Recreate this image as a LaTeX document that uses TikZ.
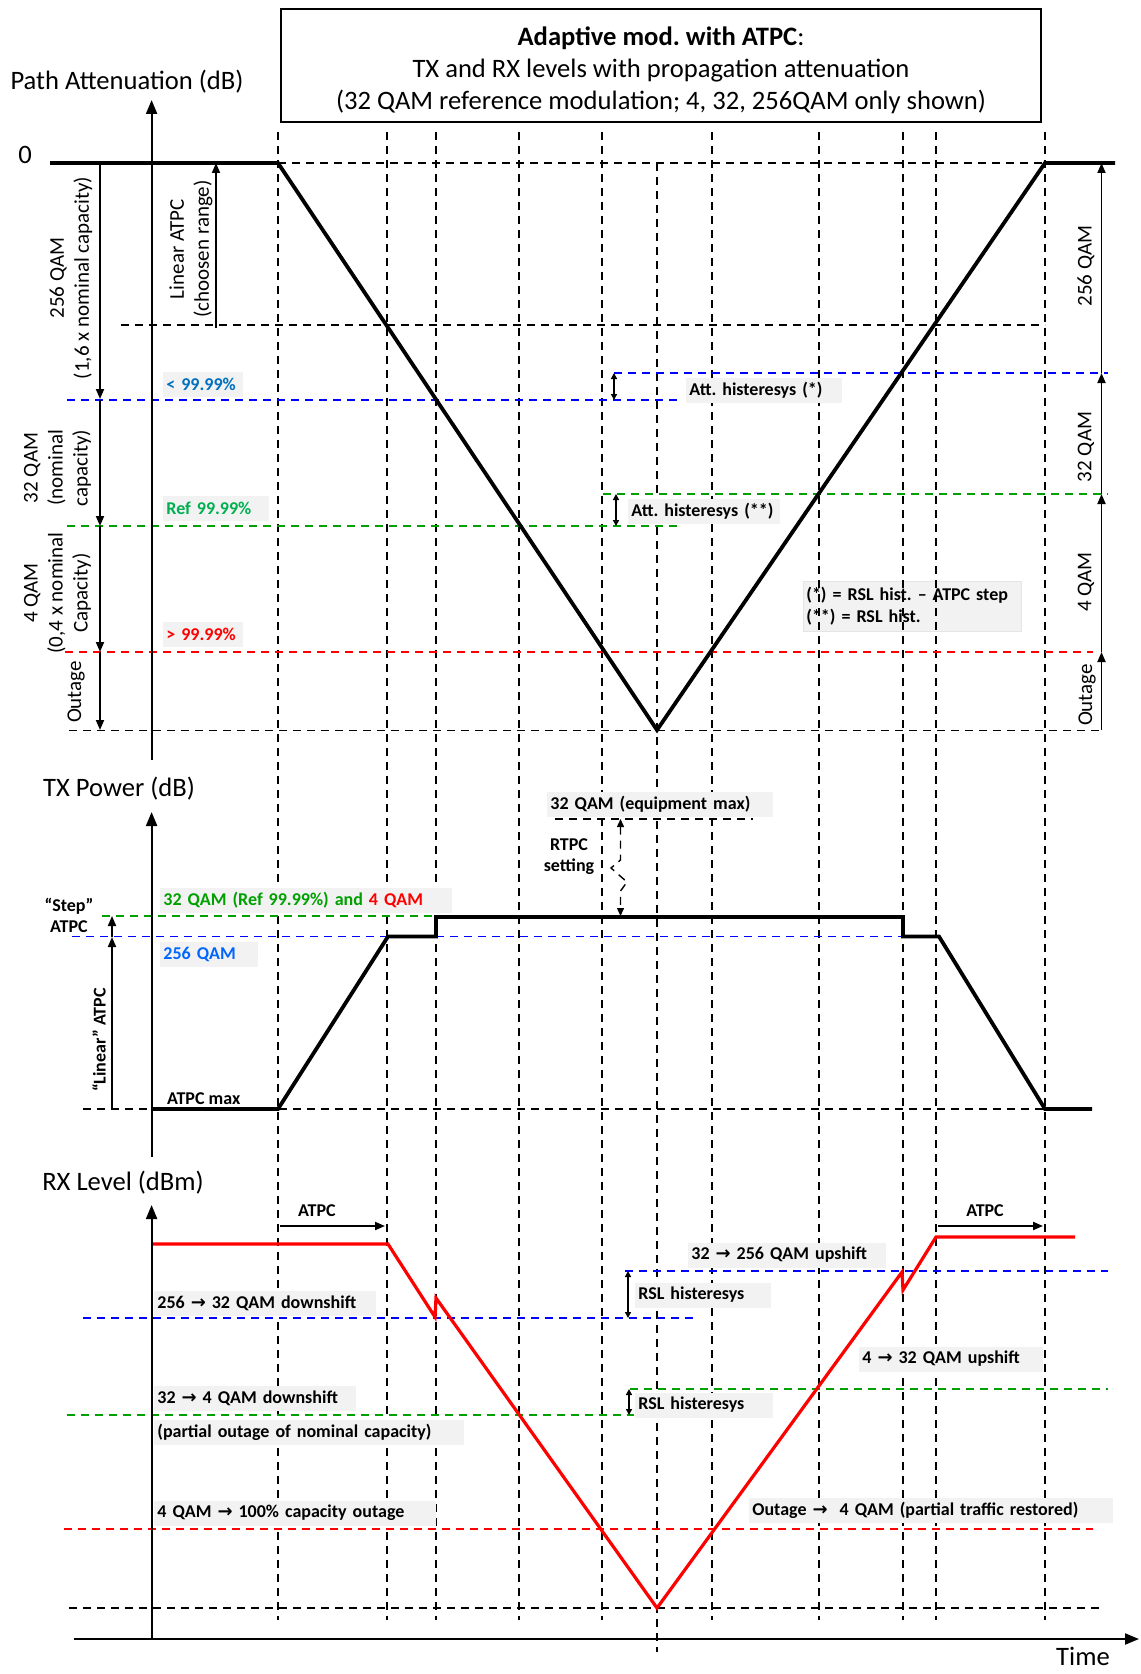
\documentclass[tikz,border=0pt]{standalone}
\usepackage{fontspec}
\setmainfont{Carlito}
\newfontfamily\arrowfont{DejaVu Sans}
\usetikzlibrary{arrows.meta}
\definecolor{lblue}{RGB}{0,112,192}
\definecolor{sblue}{RGB}{0,102,255}
\definecolor{dgreen}{RGB}{0,160,0}
\definecolor{lgreen}{RGB}{0,176,80}
\definecolor{boxgray}{RGB}{242,242,242}
\newcommand{\qto}{{\arrowfont\bfseries\char"2192}}
\begin{document}
\frenchspacing
\begin{tikzpicture}[x=0.5pt,y=-0.5pt,
  kdash/.style={dash pattern=on 4pt off 3pt,line width=0.6pt},
  bdash/.style={kdash,blue},
  gdash/.style={kdash,dgreen},
  rdash/.style={kdash,red},
  curve/.style={line width=1.9pt},
  axisline/.style={line width=1.1pt,-{Triangle[length=7pt,width=5.5pt]}},
  rng/.style={line width=0.9pt,-{Triangle[length=5pt,width=4pt]}},
  hist/.style={line width=0.7pt,{Triangle[length=3pt,width=3pt]}-{Triangle[length=3pt,width=3pt]}},
  lbl/.style={fill=boxgray,anchor=west,text width=#1,align=left,inner xsep=1.5pt,inner ysep=0pt,minimum height=12.5pt,font=\fontsize{9}{11}\bfseries\selectfont},
  big/.style={font=\fontsize{13.3}{16}\selectfont},
  mid/.style={rotate=90,align=center,font=\fontsize{10.5}{12.5}\selectfont},
  bold/.style={align=center,font=\fontsize{9}{10.5}\bfseries\selectfont}]
\useasboundingbox (0,0) rectangle (1140,1674);

\draw[line width=0.7pt] (281,9) rectangle (1041,122);
\node[big,align=center] (ttl) at (661,70)
  {\textbf{Adaptive mod. with ATPC}:\\TX and RX levels with propagation attenuation\\(32 QAM reference modulation; 4, 32, 256QAM only shown)};
\node[lbl=106pt,fill=boxgray,draw=gray!20,inner ysep=3pt] (note) at (803,606.5) {(*) = RSL hist. -- ATPC step\\(**) = RSL hist.};

\foreach \x in {278,387,436,519,602,712,819,903,936,1045}
  \draw[kdash] (\x,132) -- (\x,1620);
\draw[kdash] (657,163) -- (657,1652);

\draw[kdash] (278,163) -- (1045,163);
\draw[kdash] (121,325) -- (1045,325);
\draw[bdash] (614,373) -- (1108,373);
\draw[bdash] (67,400) -- (681,400);
\draw[gdash] (603,494) -- (1108,494);
\draw[gdash] (67,526) -- (681,526);
\draw[rdash] (65,652) -- (1093,652);
\draw[kdash] (69,730.5) -- (1101,730.5);

\draw[kdash] (555,819) -- (753,819);
\draw[gdash] (102,916) -- (800,916);
\draw[bdash] (72,936.5) -- (903,936.5);
\draw[kdash] (83,1109) -- (1045,1109);

\draw[bdash] (625,1271) -- (1108,1271);
\draw[bdash] (83,1318) -- (697,1318);
\draw[gdash] (630,1389) -- (1108,1389);
\draw[gdash] (67,1415) -- (634,1415);
\draw[rdash] (64,1529) -- (1093,1529);
\draw[kdash] (69,1608) -- (1101,1608);

\draw[curve] (50,163) -- (278,163) -- (657,730) -- (1045,163) -- (1115,163);
\draw[curve] (151.6,1109) -- (278,1109) -- (388,936.5) -- (436,936.5) -- (436,917) -- (903,917) -- (903,936.5) -- (939,936.5) -- (1045,1109) -- (1092,1109);
\draw[curve,red,line width=1.6pt] (151.6,1244) -- (388,1244) -- (435,1317) -- (436,1298) -- (657,1608) -- (902,1272) -- (903,1290) -- (936,1237) -- (1075,1237);

\draw[axisline] (151.6,760) -- (151.6,100);
\draw[axisline] (151.6,1157) -- (151.6,812);
\draw[axisline] (151.6,1639) -- (151.6,1205);
\draw[axisline] (74,1639) -- (1139,1639);

\draw[rng] (100,163) -- (100,399);
\draw[rng] (100,400) -- (100,526);
\draw[rng] (100,526) -- (100,652);
\draw[rng] (100,652) -- (100,730);
\draw[rng] (216,328) -- (216,163);
\draw[rng] (1101.5,373) -- (1101.5,163);
\draw[rng] (1101.5,494) -- (1101.5,373);
\draw[rng] (1101.5,652) -- (1101.5,494);
\draw[rng] (1101.5,730) -- (1101.5,652);
\draw[rng] (112,1109) -- (112,937);
\draw[rng] (112,937) -- (112,916);
\draw[rng,line width=1pt] (280,1226) -- (385,1226);
\draw[rng,line width=1pt] (938,1226) -- (1043,1226);
\draw[kdash,line width=0.7pt,{Triangle[length=4pt,width=3.5pt]}-{Triangle[length=4pt,width=3.5pt]}]
  (620.5,819) -- (620.5,860) -- (611,868) -- (627,882) -- (620.5,891) -- (620.5,916);

\draw[hist] (614,373) -- (614,400);
\draw[hist] (616,494) -- (616,526);
\draw[hist] (628,1271) -- (628,1318);
\draw[hist] (629,1389) -- (629,1415);

\node[big] (pa) at (127,82) {Path Attenuation (dB)};
\node[big] (zero) at (25,155) {0};
\node[big] (txp) at (119,789) {TX Power (dB)};
\node[big] (rxl) at (123,1183) {RX Level (dBm)};
\node[big] (tm) at (1083,1656) {Time};

\node[mid] (l256) at (71,278) {256 QAM\\(1,6 x nominal capacity)};
\node[mid] (latpc) at (191,249) {Linear ATPC\\(choosen range)};
\node[mid] (l32) at (57.5,468) {32 QAM\\(nominal\\capacity)};
\node[mid] (l4) at (57.5,593) {4 QAM\\(0,4 x nominal\\Capacity)};
\node[mid] (lout) at (76,692) {Outage};
\node[mid] (r256) at (1086,266) {256 QAM};
\node[mid] (r32) at (1086,447) {32 QAM};
\node[mid] (r4) at (1086,582) {4 QAM};
\node[mid] (rout) at (1087,695) {Outage};

\node[lbl=37pt,text=lblue] (p1) at (163,384) {<~99.99\%};
\node[lbl=50pt,text=lgreen] (p2) at (163,508) {Ref 99.99\%};
\node[lbl=37pt,text=red] (p3) at (163,634) {>~99.99\%};
\node[lbl=75pt] (h1) at (686,390) {Att. histeresys (*)};
\node[lbl=73pt] (h2) at (628,511) {Att. histeresys (**)};

\node[lbl=110pt] (eqmax) at (547,804) {32 QAM (equipment max)};
\node[lbl=143pt] (ref) at (160,900) {\textcolor{dgreen}{32 QAM (Ref 99.99\%) and} \textcolor{red}{4 QAM}};
\node[lbl=46pt,text=sblue] (s256) at (160,954) {256 QAM};
\node[bold,anchor=west] (amax) at (160,1099) {ATPC max};
\node[bold] (rtpc) at (569,857) {RTPC\\setting};
\node[bold] (stp) at (69,915) {“Step”\\ATPC};
\node[bold,rotate=90] (lnr) at (99,1040) {“Linear” ATPC};

\node[bold] (atpc1) at (317,1211) {ATPC};
\node[bold] (atpc2) at (985,1211) {ATPC};
\node[lbl=108pt] (d1) at (154,1303) {256 \qto{} 32 QAM downshift};
\node[lbl=98pt] (d2) at (154,1398) {32 \qto{} 4 QAM downshift};
\node[lbl=152pt] (d3) at (154,1432) {(partial outage of nominal capacity)};
\node[lbl=138pt] (d4) at (154,1513) {4 QAM \qto{} 100\% capacity outage};
\node[lbl=96pt] (u1) at (688,1255) {32 \qto{} 256 QAM upshift};
\node[lbl=65pt] (rh1) at (635,1295) {RSL histeresys};
\node[lbl=89pt] (u2) at (859,1359) {4 \qto{} 32 QAM upshift};
\node[lbl=66pt] (rh2) at (635,1405) {RSL histeresys};
\node[lbl=179pt] (u3) at (749,1510) {Outage \qto{}\ \ 4 QAM (partial traffic restored)};
\end{tikzpicture}
\end{document}
